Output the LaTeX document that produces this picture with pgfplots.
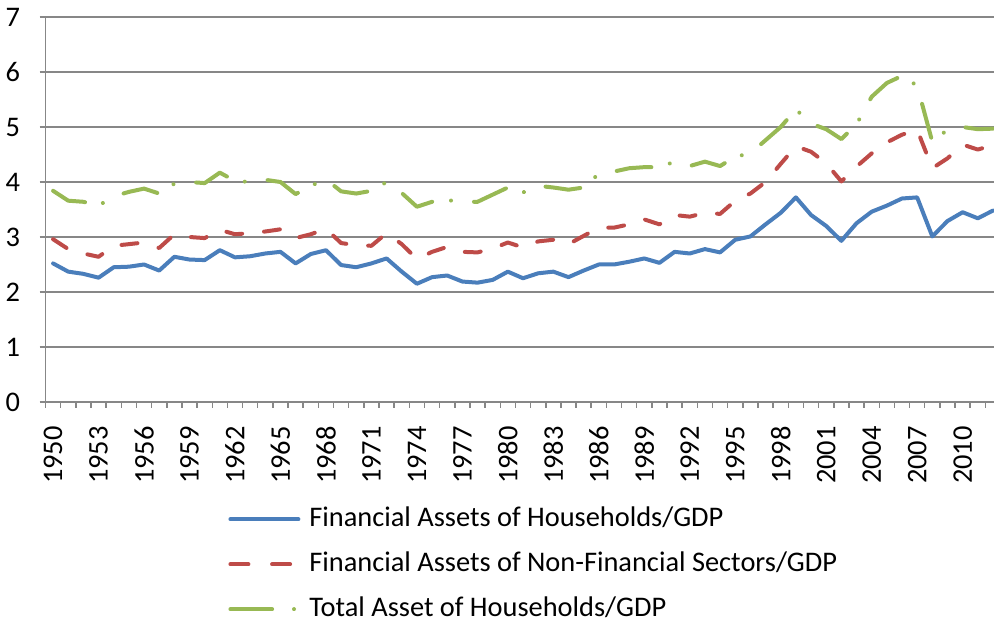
\documentclass[border=0pt]{standalone}
\usepackage{fontspec}
\setmainfont{Carlito}
\usepackage{pgfplots}
\pgfplotsset{compat=1.18}
\usepackage{pgfplotstable}
\definecolor{cblue}{HTML}{4A7EBB}
\definecolor{cred}{HTML}{BE4B48}
\definecolor{cgreen}{HTML}{98B954}
\definecolor{cgrid}{HTML}{878787}
\pgfplotstableread{
year hh nf tot
1950 2.52 2.96 3.84
1951 2.37 2.78 3.66
1952 2.33 2.70 3.64
1953 2.26 2.64 3.57
1954 2.45 2.84 3.74
1955 2.46 2.87 3.82
1956 2.50 2.90 3.88
1957 2.39 2.80 3.79
1958 2.64 3.05 3.97
1959 2.59 3.00 4.00
1960 2.58 2.98 3.98
1961 2.76 3.13 4.17
1962 2.63 3.05 4.02
1963 2.65 3.07 4.00
1964 2.70 3.10 4.04
1965 2.73 3.14 4.00
1966 2.52 2.98 3.78
1967 2.69 3.05 3.93
1968 2.76 3.15 4.05
1969 2.49 2.89 3.83
1970 2.45 2.85 3.79
1971 2.52 2.84 3.84
1972 2.61 3.07 4.00
1973 2.37 2.87 3.80
1974 2.15 2.60 3.55
1975 2.27 2.73 3.64
1976 2.30 2.82 3.67
1977 2.19 2.73 3.64
1978 2.17 2.72 3.64
1979 2.22 2.79 3.77
1980 2.37 2.90 3.90
1981 2.25 2.81 3.81
1982 2.34 2.92 3.93
1983 2.37 2.95 3.90
1984 2.27 2.87 3.86
1985 2.39 3.02 3.90
1986 2.50 3.17 4.15
1987 2.50 3.17 4.19
1988 2.55 3.23 4.25
1989 2.61 3.32 4.27
1990 2.53 3.23 4.27
1991 2.73 3.40 4.37
1992 2.70 3.37 4.29
1993 2.78 3.44 4.37
1994 2.72 3.42 4.29
1995 2.95 3.66 4.46
1996 3.01 3.79 4.52
1997 3.23 4.00 4.76
1998 3.44 4.33 5.00
1999 3.72 4.65 5.32
2000 3.40 4.55 5.06
2001 3.20 4.34 4.96
2002 2.93 4.01 4.78
2003 3.25 4.28 5.05
2004 3.46 4.52 5.55
2005 3.57 4.72 5.80
2006 3.70 4.86 5.93
2007 3.72 4.95 5.75
2008 3.01 4.25 4.73
2009 3.29 4.43 4.95
2010 3.45 4.68 5.00
2011 3.34 4.59 4.96
2012 3.48 4.67 4.97
}\data
\begin{document}
\begin{tikzpicture}
\useasboundingbox (-22.75pt,-111pt) rectangle (474.25pt,201pt);
\begin{axis}[
  scale only axis, width=474.25pt, height=192.5pt,
  xmin=1949.5, xmax=2012.07, ymin=0, ymax=7,
  axis lines=left, axis line style={-, draw=cgrid, line width=0.75pt},
  ytick={0,1,...,7}, ymajorgrids, grid style={draw=cgrid, line width=0.75pt},
  xtick={1950,1953,...,2010},
  minor xtick={1949.5,1950.5,...,2011.5},
  major x tick style={draw=none},
  tick style={draw=cgrid, line width=0.75pt},
  tick align=outside, major tick length=3pt, minor tick length=3pt,
  /pgf/number format/assume math mode=true,
  /pgf/number format/1000 sep={},
  every tick label/.append style={font=\fontsize{14.2}{16}\selectfont, text=black},
  xticklabel style={rotate=90, anchor=east, inner sep=0pt, xshift=-9pt},
  yticklabel style={anchor=east, inner sep=0pt, xshift=-9.5pt},
  legend style={draw=none, fill=none, at={(axis description cs:0,0)}, anchor=north west,
    xshift=91.25pt, yshift=-52pt, inner sep=0pt, row sep=9.5pt, column sep=4.5pt,
    font=\fontsize{14.2}{16}\selectfont,
    nodes={inner sep=0pt, text height=10pt, text depth=3pt}},
  legend cell align=left,
  legend image code/.code={\draw[#1, line cap=round] (1pt,0pt) -- (35pt,0pt);},
]
\addplot[cblue, line width=2pt, line cap=round, line join=round] table[x=year, y=hh] {\data};
\addlegendentry{Financial Assets of Households/GDP}
\addplot[cred, line width=2pt, line cap=round, line join=round, dash pattern=on 8pt off 11pt,
  legend image post style={dash pattern=on 9pt off 11.85pt}] table[x=year, y=nf] {\data};
\addlegendentry{Financial Assets of Non-Financial Sectors/GDP}
\addplot[cgreen, line width=2pt, line cap=round, line join=round, dash pattern=on 17.5pt off 9.5pt on 0.01pt off 11.5pt,
  legend image post style={dash pattern=on 20.85pt off 10.95pt on 0.01pt off 30pt}] table[x=year, y=tot] {\data};
\addlegendentry{Total Asset of Households/GDP}
\end{axis}
\end{tikzpicture}
\end{document}
